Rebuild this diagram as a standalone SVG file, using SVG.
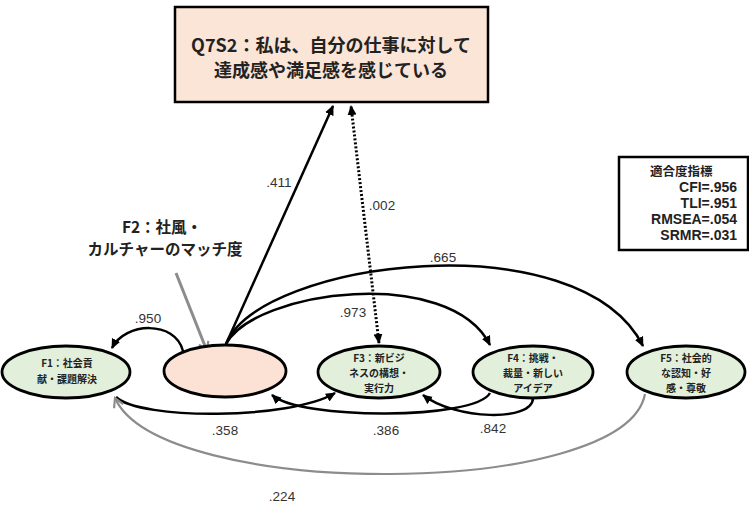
<svg xmlns="http://www.w3.org/2000/svg" width="749" height="507" viewBox="0 0 749 507">
<style>
.bg{fill:#ffffff}
.box{fill:#FBE5D6;stroke:#000;stroke-width:2.5}
.fit{fill:#ffffff;stroke:#000;stroke-width:2.5}
.fac{fill:#E2EFDA;stroke:#000;stroke-width:2.8}
.f2{fill:#FBE2D5;stroke:#000;stroke-width:2.8}
.jp{font-family:"Noto Sans CJK JP","Noto Sans",sans-serif;font-weight:bold;fill:#222;text-anchor:middle}
.q{font-size:18px}
.n{font-size:10px}
.big{font-size:15.5px}
.lab{font-family:"Liberation Sans",Arial,sans-serif;font-size:13.5px;fill:#333;text-anchor:middle}
.fi{font-family:"Liberation Sans",Arial,sans-serif;font-weight:bold;font-size:14px;fill:#222;text-anchor:end}
.fh{font-family:"Noto Sans CJK JP",sans-serif;font-weight:bold;font-size:12.5px;fill:#222}
.c{fill:none;stroke:#000;stroke-width:2.5}
.dot{fill:none;stroke:#000;stroke-width:3;stroke-dasharray:2 2}
.g{fill:none;stroke:#8c8c8c;stroke-width:2.2}
.ga{fill:none;stroke:#8c8c8c;stroke-width:3}
</style>
<defs>
<marker id="ah" viewBox="0 0 10 10" refX="9" refY="5" markerWidth="10" markerHeight="10" orient="auto-start-reverse" markerUnits="userSpaceOnUse">
<path d="M0,0.5 L10,5 L0,9.5 z" fill="#000"/>
</marker>
<marker id="gh" viewBox="0 0 12 12" refX="10" refY="6" markerWidth="12" markerHeight="12" orient="auto" markerUnits="userSpaceOnUse">
<path d="M1,1 L10,6 L1,11" fill="none" stroke="#8c8c8c" stroke-width="2.2"/>
</marker>
</defs>
<rect class="bg" x="0" y="0" width="749" height="507"/>

<g id="connectors">
<path class="c" d="M226,344 L333,106" marker-end="url(#ah)"/>
<path class="dot" d="M379,343 L351,106" marker-start="url(#ah)" marker-end="url(#ah)"/>
<path class="c" d="M226,344 C255,290 450,265 490,345" marker-end="url(#ah)"/>
<path class="c" d="M226,344 C260,260 580,220 643,346" marker-end="url(#ah)"/>
<path class="c" d="M183,351 C175,320 125,322 112,348" marker-end="url(#ah)"/>
<path class="c" d="M116,397 C140,420 290,420 335,393" marker-end="url(#ah)"/>
<path class="c" d="M490,393 C475,420 300,420 272,395" marker-end="url(#ah)"/>
<path class="c" d="M533,398 C533,422 455,420 423,395" marker-end="url(#ah)"/>
<path class="g" d="M645,394 C625,500 160,500 115,398" marker-end="url(#gh)"/>
<path class="ga" d="M176,273 L207,351" marker-end="url(#gh)"/>
</g>

<g id="q7s2">
<rect class="box" x="175" y="7" width="313" height="95"/>
<text class="jp q" x="331" y="52">Q7S2：私は、自分の仕事に対して</text>
<text class="jp q" x="331" y="77">達成感や満足感を感じている</text>
</g>

<g id="fit">
<rect class="fit" x="619" y="157" width="129" height="93"/>
<text class="fh" x="650" y="176">適合度指標</text>
<text class="fi" x="737" y="192">CFI=.956</text>
<text class="fi" x="737" y="208">TLI=.951</text>
<text class="fi" x="737" y="224">RMSEA=.054</text>
<text class="fi" x="737" y="240">SRMR=.031</text>
</g>

<g id="f2label">
<text class="jp big" x="162" y="233">F2：社風・</text>
<text class="jp big" x="165" y="255">カルチャーのマッチ度</text>
</g>

<g id="f1">
<ellipse class="fac" cx="66" cy="372" rx="64" ry="26"/>
<text class="jp n" x="67" y="367">F1：社会貢</text>
<text class="jp n" x="67" y="383">献・課題解決</text>
</g>

<g id="f2">
<ellipse class="f2" cx="225" cy="371" rx="61" ry="26"/>
</g>

<g id="f3">
<ellipse class="fac" cx="379" cy="372" rx="61" ry="26"/>
<text class="jp n" x="379" y="362">F3：新ビジ</text>
<text class="jp n" x="379" y="377">ネスの構想・</text>
<text class="jp n" x="379" y="392">実行力</text>
</g>

<g id="f4">
<ellipse class="fac" cx="533" cy="372" rx="60" ry="26"/>
<text class="jp n" x="533" y="362">F4：挑戦・</text>
<text class="jp n" x="533" y="377">裁量・新しい</text>
<text class="jp n" x="533" y="392">アイデア</text>
</g>

<g id="f5">
<ellipse class="fac" cx="686" cy="372" rx="59" ry="26"/>
<text class="jp n" x="686" y="362">F5：社会的</text>
<text class="jp n" x="686" y="377">な認知・好</text>
<text class="jp n" x="686" y="392">感・尊敬</text>
</g>

<g id="labels">
<text class="lab" x="279" y="187">.411</text>
<text class="lab" x="382" y="210">.002</text>
<text class="lab" x="443" y="262">.665</text>
<text class="lab" x="353" y="317">.973</text>
<text class="lab" x="148" y="323">.950</text>
<text class="lab" x="225" y="435">.358</text>
<text class="lab" x="386" y="435">.386</text>
<text class="lab" x="493" y="433">.842</text>
<text class="lab" x="282" y="501">.224</text>
</g>
</svg>
